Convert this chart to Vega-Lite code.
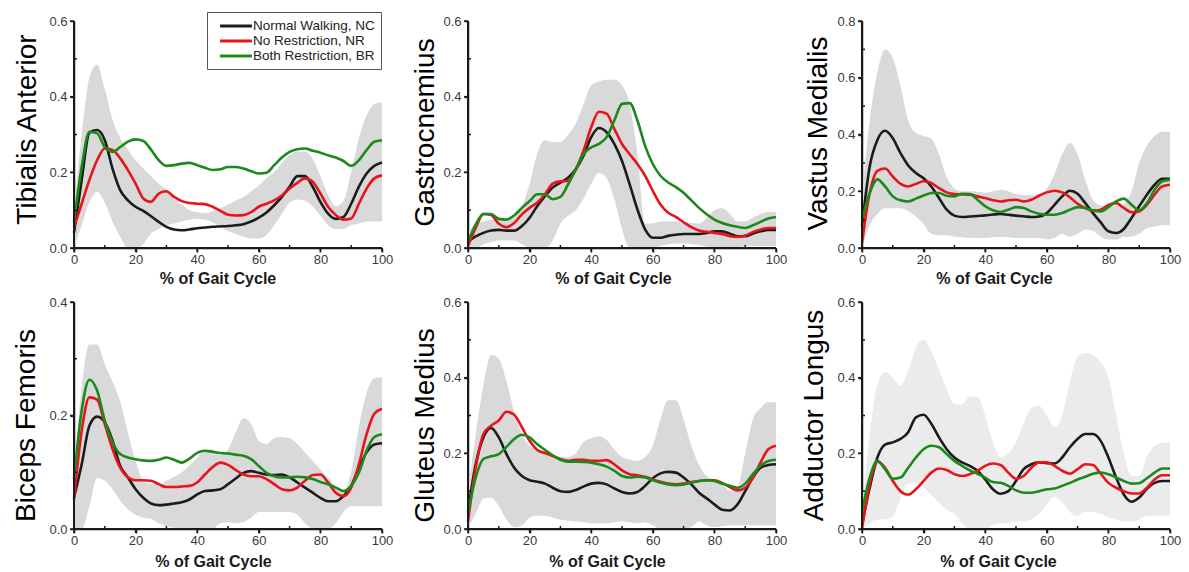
{
  "$schema": "https://vega.github.io/schema/vega-lite/v6.json",
  "autosize": {"type": "none"},
  "padding": {"left": 74, "top": 21, "right": 1115, "bottom": 551},
  "background": "white",
  "config": {
    "view": {"stroke": null},
    "font": "Liberation Sans",
    "axis": {
      "grid": false,
      "domain": true,
      "domainColor": "#1a1a1a",
      "domainWidth": 1.5,
      "ticks": true,
      "tickColor": "#1a1a1a",
      "tickWidth": 1.5,
      "tickSize": 4,
      "labelFlush": false,
      "labelFont": "Liberation Sans",
      "labelFontSize": 13,
      "labelColor": "#3a3a3a",
      "titleFont": "Liberation Sans"
    },
    "axisX": {"titleFontSize": 16, "titleFontWeight": "bold", "titleBaseline": "alphabetic", "titleColor": "#1a1a1a", "labelPadding": 1},
    "axisY": {"titleFontSize": 28, "titleFontWeight": "normal", "titleBaseline": "alphabetic", "titleAngle": -90, "titleAlign": "center", "titleColor": "#000000", "labelPadding": 3},
    "legend": {
      "labelFont": "Liberation Sans",
      "labelFontSize": 13.5,
      "labelColor": "#222222",
      "strokeColor": "#555555",
      "fillColor": "white",
      "padding": 6,
      "rowPadding": 0
    }
  },
  "datasets": {
    "frame": [
      {"m":"TA","o":0,"x":0,"y":0.6},{"m":"TA","o":1,"x":0,"y":0},{"m":"TA","o":2,"x":100,"y":0},
      {"m":"GA","o":0,"x":0,"y":0.6},{"m":"GA","o":1,"x":0,"y":0},{"m":"GA","o":2,"x":100,"y":0},
      {"m":"VM","o":0,"x":0,"y":0.8},{"m":"VM","o":1,"x":0,"y":0},{"m":"VM","o":2,"x":100,"y":0},
      {"m":"BF","o":0,"x":0,"y":0.4},{"m":"BF","o":1,"x":0,"y":0},{"m":"BF","o":2,"x":100,"y":0},
      {"m":"GM","o":0,"x":0,"y":0.6},{"m":"GM","o":1,"x":0,"y":0},{"m":"GM","o":2,"x":100,"y":0},
      {"m":"AL","o":0,"x":0,"y":0.6},{"m":"AL","o":1,"x":0,"y":0},{"m":"AL","o":2,"x":100,"y":0}
    ],
    "tk": [
      {"ax":"y","x":0,"y":0},{"ax":"y","x":0,"y":0.1},{"ax":"y","x":0,"y":0.2},{"ax":"y","x":0,"y":0.3},{"ax":"y","x":0,"y":0.4},
      {"ax":"y","x":0,"y":0.5},{"ax":"y","x":0,"y":0.6},{"ax":"y","x":0,"y":0.7},{"ax":"y","x":0,"y":0.8},
      {"ax":"x","x":0,"y":0},{"ax":"x","x":10,"y":0},{"ax":"x","x":20,"y":0},{"ax":"x","x":30,"y":0},{"ax":"x","x":40,"y":0},{"ax":"x","x":50,"y":0},
      {"ax":"x","x":60,"y":0},{"ax":"x","x":70,"y":0},{"ax":"x","x":80,"y":0},{"ax":"x","x":90,"y":0},{"ax":"x","x":100,"y":0}
    ],
    "emg": [
      {"m":"TA","x":0,"nc":0.04,"nr":0.055,"br":0.07,"lo":0,"hi":0.1},
      {"m":"TA","x":2.5,"nc":0.18,"nr":0.117,"br":0.215,"lo":0.06,"hi":0.3},
      {"m":"TA","x":5,"nc":0.305,"nr":0.18,"br":0.307,"lo":0.12,"hi":0.45},
      {"m":"TA","x":7.5,"nc":0.312,"nr":0.232,"br":0.303,"lo":0.148,"hi":0.485},
      {"m":"TA","x":10,"nc":0.285,"nr":0.263,"br":0.267,"lo":0.12,"hi":0.42},
      {"m":"TA","x":12.5,"nc":0.21,"nr":0.259,"br":0.254,"lo":0.07,"hi":0.34},
      {"m":"TA","x":15,"nc":0.153,"nr":0.237,"br":0.267,"lo":0.03,"hi":0.29},
      {"m":"TA","x":17.5,"nc":0.126,"nr":0.206,"br":0.281,"lo":0,"hi":0.26},
      {"m":"TA","x":20,"nc":0.109,"nr":0.17,"br":0.287,"lo":0,"hi":0.232},
      {"m":"TA","x":22.5,"nc":0.098,"nr":0.131,"br":0.283,"lo":0.01,"hi":0.21},
      {"m":"TA","x":25,"nc":0.084,"nr":0.122,"br":0.26,"lo":0.038,"hi":0.19},
      {"m":"TA","x":27.5,"nc":0.069,"nr":0.144,"br":0.232,"lo":0.05,"hi":0.17},
      {"m":"TA","x":30,"nc":0.056,"nr":0.15,"br":0.217,"lo":0.06,"hi":0.155},
      {"m":"TA","x":32.5,"nc":0.049,"nr":0.135,"br":0.219,"lo":0.065,"hi":0.13},
      {"m":"TA","x":35,"nc":0.047,"nr":0.124,"br":0.223,"lo":0.07,"hi":0.115},
      {"m":"TA","x":37.5,"nc":0.049,"nr":0.119,"br":0.225,"lo":0.075,"hi":0.1},
      {"m":"TA","x":40,"nc":0.052,"nr":0.117,"br":0.219,"lo":0.077,"hi":0.095},
      {"m":"TA","x":42.5,"nc":0.054,"nr":0.116,"br":0.212,"lo":0.075,"hi":0.092},
      {"m":"TA","x":45,"nc":0.056,"nr":0.109,"br":0.206,"lo":0.068,"hi":0.097},
      {"m":"TA","x":47.5,"nc":0.057,"nr":0.098,"br":0.208,"lo":0.055,"hi":0.105},
      {"m":"TA","x":50,"nc":0.058,"nr":0.088,"br":0.214,"lo":0.045,"hi":0.115},
      {"m":"TA","x":52.5,"nc":0.06,"nr":0.086,"br":0.214,"lo":0.037,"hi":0.125},
      {"m":"TA","x":55,"nc":0.063,"nr":0.087,"br":0.21,"lo":0.03,"hi":0.135},
      {"m":"TA","x":57.5,"nc":0.07,"nr":0.095,"br":0.203,"lo":0.025,"hi":0.15},
      {"m":"TA","x":60,"nc":0.08,"nr":0.109,"br":0.197,"lo":0.025,"hi":0.165},
      {"m":"TA","x":62.5,"nc":0.094,"nr":0.117,"br":0.199,"lo":0.035,"hi":0.185},
      {"m":"TA","x":65,"nc":0.113,"nr":0.126,"br":0.219,"lo":0.06,"hi":0.2},
      {"m":"TA","x":67.5,"nc":0.135,"nr":0.139,"br":0.239,"lo":0.09,"hi":0.225},
      {"m":"TA","x":70,"nc":0.162,"nr":0.157,"br":0.254,"lo":0.12,"hi":0.245},
      {"m":"TA","x":72.5,"nc":0.19,"nr":0.172,"br":0.261,"lo":0.128,"hi":0.255},
      {"m":"TA","x":75,"nc":0.19,"nr":0.184,"br":0.263,"lo":0.125,"hi":0.255},
      {"m":"TA","x":77.5,"nc":0.162,"nr":0.175,"br":0.257,"lo":0.11,"hi":0.235},
      {"m":"TA","x":80,"nc":0.122,"nr":0.144,"br":0.252,"lo":0.085,"hi":0.19},
      {"m":"TA","x":82.5,"nc":0.091,"nr":0.109,"br":0.245,"lo":0.06,"hi":0.14},
      {"m":"TA","x":85,"nc":0.077,"nr":0.087,"br":0.239,"lo":0.05,"hi":0.11},
      {"m":"TA","x":87.5,"nc":0.082,"nr":0.075,"br":0.23,"lo":0.05,"hi":0.125},
      {"m":"TA","x":90,"nc":0.117,"nr":0.078,"br":0.217,"lo":0.06,"hi":0.2},
      {"m":"TA","x":92.5,"nc":0.162,"nr":0.117,"br":0.232,"lo":0.065,"hi":0.29},
      {"m":"TA","x":95,"nc":0.197,"nr":0.157,"br":0.259,"lo":0.07,"hi":0.35},
      {"m":"TA","x":97.5,"nc":0.217,"nr":0.184,"br":0.281,"lo":0.07,"hi":0.38},
      {"m":"TA","x":100,"nc":0.226,"nr":0.192,"br":0.285,"lo":0.07,"hi":0.385},

      {"m":"GA","x":0,"nc":0.018,"nr":0.005,"br":0.018,"lo":0,"hi":0.04},
      {"m":"GA","x":2.5,"nc":0.031,"nr":0.053,"br":0.062,"lo":0,"hi":0.065},
      {"m":"GA","x":5,"nc":0.04,"nr":0.09,"br":0.09,"lo":0.01,"hi":0.07},
      {"m":"GA","x":7.5,"nc":0.046,"nr":0.087,"br":0.09,"lo":0.015,"hi":0.075},
      {"m":"GA","x":10,"nc":0.048,"nr":0.064,"br":0.077,"lo":0.02,"hi":0.075},
      {"m":"GA","x":12.5,"nc":0.046,"nr":0.055,"br":0.075,"lo":0.02,"hi":0.075},
      {"m":"GA","x":15,"nc":0.046,"nr":0.066,"br":0.086,"lo":0.02,"hi":0.08},
      {"m":"GA","x":17.5,"nc":0.058,"nr":0.089,"br":0.106,"lo":0.01,"hi":0.11},
      {"m":"GA","x":20,"nc":0.08,"nr":0.106,"br":0.124,"lo":0,"hi":0.17},
      {"m":"GA","x":22.5,"nc":0.111,"nr":0.12,"br":0.142,"lo":0,"hi":0.25},
      {"m":"GA","x":25,"nc":0.137,"nr":0.142,"br":0.142,"lo":0,"hi":0.285},
      {"m":"GA","x":27.5,"nc":0.16,"nr":0.17,"br":0.129,"lo":0.02,"hi":0.28},
      {"m":"GA","x":30,"nc":0.173,"nr":0.176,"br":0.135,"lo":0.065,"hi":0.28},
      {"m":"GA","x":32.5,"nc":0.186,"nr":0.177,"br":0.168,"lo":0.085,"hi":0.3},
      {"m":"GA","x":35,"nc":0.208,"nr":0.208,"br":0.208,"lo":0.1,"hi":0.33},
      {"m":"GA","x":37.5,"nc":0.244,"nr":0.257,"br":0.248,"lo":0.13,"hi":0.38},
      {"m":"GA","x":40,"nc":0.293,"nr":0.319,"br":0.266,"lo":0.17,"hi":0.43},
      {"m":"GA","x":42.5,"nc":0.317,"nr":0.36,"br":0.275,"lo":0.198,"hi":0.44},
      {"m":"GA","x":45,"nc":0.306,"nr":0.355,"br":0.293,"lo":0.185,"hi":0.445},
      {"m":"GA","x":47.5,"nc":0.275,"nr":0.315,"br":0.337,"lo":0.13,"hi":0.445},
      {"m":"GA","x":50,"nc":0.23,"nr":0.275,"br":0.381,"lo":0.05,"hi":0.43},
      {"m":"GA","x":52.5,"nc":0.168,"nr":0.248,"br":0.383,"lo":0,"hi":0.38},
      {"m":"GA","x":55,"nc":0.102,"nr":0.222,"br":0.337,"lo":0,"hi":0.25},
      {"m":"GA","x":57.5,"nc":0.049,"nr":0.191,"br":0.27,"lo":0,"hi":0.065},
      {"m":"GA","x":60,"nc":0.027,"nr":0.151,"br":0.222,"lo":0,"hi":0.065},
      {"m":"GA","x":62.5,"nc":0.027,"nr":0.115,"br":0.191,"lo":0.005,"hi":0.07},
      {"m":"GA","x":65,"nc":0.032,"nr":0.093,"br":0.173,"lo":0.01,"hi":0.07},
      {"m":"GA","x":67.5,"nc":0.035,"nr":0.082,"br":0.161,"lo":0.012,"hi":0.07},
      {"m":"GA","x":70,"nc":0.037,"nr":0.068,"br":0.146,"lo":0.012,"hi":0.068},
      {"m":"GA","x":72.5,"nc":0.037,"nr":0.055,"br":0.126,"lo":0.01,"hi":0.066},
      {"m":"GA","x":75,"nc":0.037,"nr":0.046,"br":0.106,"lo":0.008,"hi":0.065},
      {"m":"GA","x":77.5,"nc":0.04,"nr":0.043,"br":0.089,"lo":0.004,"hi":0.08},
      {"m":"GA","x":80,"nc":0.044,"nr":0.04,"br":0.075,"lo":0,"hi":0.1},
      {"m":"GA","x":82.5,"nc":0.044,"nr":0.037,"br":0.066,"lo":0,"hi":0.105},
      {"m":"GA","x":85,"nc":0.038,"nr":0.031,"br":0.06,"lo":0,"hi":0.09},
      {"m":"GA","x":87.5,"nc":0.031,"nr":0.029,"br":0.056,"lo":0,"hi":0.07},
      {"m":"GA","x":90,"nc":0.031,"nr":0.033,"br":0.053,"lo":0.005,"hi":0.07},
      {"m":"GA","x":92.5,"nc":0.038,"nr":0.042,"br":0.06,"lo":0.005,"hi":0.08},
      {"m":"GA","x":95,"nc":0.044,"nr":0.049,"br":0.069,"lo":0.005,"hi":0.09},
      {"m":"GA","x":97.5,"nc":0.048,"nr":0.053,"br":0.078,"lo":0.005,"hi":0.095},
      {"m":"GA","x":100,"nc":0.048,"nr":0.053,"br":0.082,"lo":0.005,"hi":0.095},

      {"m":"VM","x":0,"nc":0.076,"nr":0.018,"br":0.1,"lo":0,"hi":0.18},
      {"m":"VM","x":2.5,"nc":0.287,"nr":0.194,"br":0.194,"lo":0.08,"hi":0.45},
      {"m":"VM","x":5,"nc":0.381,"nr":0.272,"br":0.242,"lo":0.12,"hi":0.62},
      {"m":"VM","x":7.5,"nc":0.413,"nr":0.28,"br":0.217,"lo":0.14,"hi":0.7},
      {"m":"VM","x":10,"nc":0.387,"nr":0.252,"br":0.182,"lo":0.14,"hi":0.67},
      {"m":"VM","x":12.5,"nc":0.334,"nr":0.226,"br":0.168,"lo":0.14,"hi":0.57},
      {"m":"VM","x":15,"nc":0.291,"nr":0.217,"br":0.164,"lo":0.13,"hi":0.45},
      {"m":"VM","x":17.5,"nc":0.264,"nr":0.226,"br":0.174,"lo":0.11,"hi":0.405},
      {"m":"VM","x":20,"nc":0.246,"nr":0.235,"br":0.185,"lo":0.085,"hi":0.395},
      {"m":"VM","x":22.5,"nc":0.217,"nr":0.229,"br":0.194,"lo":0.05,"hi":0.385},
      {"m":"VM","x":25,"nc":0.176,"nr":0.211,"br":0.194,"lo":0.045,"hi":0.33},
      {"m":"VM","x":27.5,"nc":0.135,"nr":0.196,"br":0.184,"lo":0.045,"hi":0.25},
      {"m":"VM","x":30,"nc":0.114,"nr":0.19,"br":0.182,"lo":0.04,"hi":0.21},
      {"m":"VM","x":32.5,"nc":0.109,"nr":0.189,"br":0.191,"lo":0.038,"hi":0.2},
      {"m":"VM","x":35,"nc":0.111,"nr":0.188,"br":0.19,"lo":0.035,"hi":0.2},
      {"m":"VM","x":37.5,"nc":0.113,"nr":0.182,"br":0.17,"lo":0.035,"hi":0.198},
      {"m":"VM","x":40,"nc":0.115,"nr":0.176,"br":0.147,"lo":0.035,"hi":0.195},
      {"m":"VM","x":42.5,"nc":0.118,"nr":0.168,"br":0.133,"lo":0.038,"hi":0.2},
      {"m":"VM","x":45,"nc":0.12,"nr":0.164,"br":0.127,"lo":0.04,"hi":0.205},
      {"m":"VM","x":47.5,"nc":0.117,"nr":0.168,"br":0.135,"lo":0.038,"hi":0.2},
      {"m":"VM","x":50,"nc":0.114,"nr":0.17,"br":0.144,"lo":0.035,"hi":0.19},
      {"m":"VM","x":52.5,"nc":0.112,"nr":0.164,"br":0.141,"lo":0.035,"hi":0.187},
      {"m":"VM","x":55,"nc":0.109,"nr":0.17,"br":0.129,"lo":0.035,"hi":0.185},
      {"m":"VM","x":57.5,"nc":0.111,"nr":0.184,"br":0.121,"lo":0.035,"hi":0.19},
      {"m":"VM","x":60,"nc":0.123,"nr":0.196,"br":0.117,"lo":0.03,"hi":0.21},
      {"m":"VM","x":62.5,"nc":0.152,"nr":0.202,"br":0.117,"lo":0.035,"hi":0.26},
      {"m":"VM","x":65,"nc":0.182,"nr":0.196,"br":0.123,"lo":0.05,"hi":0.33},
      {"m":"VM","x":67.5,"nc":0.202,"nr":0.179,"br":0.135,"lo":0.04,"hi":0.37},
      {"m":"VM","x":70,"nc":0.191,"nr":0.156,"br":0.144,"lo":0.05,"hi":0.33},
      {"m":"VM","x":72.5,"nc":0.158,"nr":0.141,"br":0.141,"lo":0.065,"hi":0.24},
      {"m":"VM","x":75,"nc":0.123,"nr":0.131,"br":0.133,"lo":0.06,"hi":0.17},
      {"m":"VM","x":77.5,"nc":0.09,"nr":0.135,"br":0.129,"lo":0.04,"hi":0.15},
      {"m":"VM","x":80,"nc":0.059,"nr":0.152,"br":0.144,"lo":0.03,"hi":0.15},
      {"m":"VM","x":82.5,"nc":0.053,"nr":0.158,"br":0.164,"lo":0.03,"hi":0.15},
      {"m":"VM","x":85,"nc":0.067,"nr":0.141,"br":0.174,"lo":0.04,"hi":0.155},
      {"m":"VM","x":87.5,"nc":0.106,"nr":0.126,"br":0.152,"lo":0.04,"hi":0.2},
      {"m":"VM","x":90,"nc":0.147,"nr":0.129,"br":0.133,"lo":0.05,"hi":0.3},
      {"m":"VM","x":92.5,"nc":0.188,"nr":0.152,"br":0.158,"lo":0.07,"hi":0.36},
      {"m":"VM","x":95,"nc":0.223,"nr":0.188,"br":0.205,"lo":0.075,"hi":0.395},
      {"m":"VM","x":97.5,"nc":0.244,"nr":0.217,"br":0.235,"lo":0.08,"hi":0.41},
      {"m":"VM","x":100,"nc":0.244,"nr":0.223,"br":0.24,"lo":0.08,"hi":0.41},

      {"m":"BF","x":0,"nc":0.055,"nr":0.052,"br":0.088,"lo":0,"hi":0.1},
      {"m":"BF","x":2.5,"nc":0.114,"nr":0.173,"br":0.209,"lo":0,"hi":0.25},
      {"m":"BF","x":5,"nc":0.182,"nr":0.232,"br":0.263,"lo":0.04,"hi":0.325},
      {"m":"BF","x":7.5,"nc":0.198,"nr":0.228,"br":0.244,"lo":0.09,"hi":0.325},
      {"m":"BF","x":10,"nc":0.188,"nr":0.185,"br":0.191,"lo":0.085,"hi":0.29},
      {"m":"BF","x":12.5,"nc":0.156,"nr":0.141,"br":0.153,"lo":0.07,"hi":0.26},
      {"m":"BF","x":15,"nc":0.111,"nr":0.108,"br":0.132,"lo":0.05,"hi":0.225},
      {"m":"BF","x":17.5,"nc":0.091,"nr":0.091,"br":0.126,"lo":0.035,"hi":0.17},
      {"m":"BF","x":20,"nc":0.07,"nr":0.086,"br":0.123,"lo":0.025,"hi":0.12},
      {"m":"BF","x":22.5,"nc":0.055,"nr":0.086,"br":0.121,"lo":0.02,"hi":0.085},
      {"m":"BF","x":25,"nc":0.045,"nr":0.085,"br":0.12,"lo":0.018,"hi":0.08},
      {"m":"BF","x":27.5,"nc":0.042,"nr":0.079,"br":0.122,"lo":0.01,"hi":0.078},
      {"m":"BF","x":30,"nc":0.043,"nr":0.074,"br":0.126,"lo":0.005,"hi":0.085},
      {"m":"BF","x":32.5,"nc":0.045,"nr":0.074,"br":0.122,"lo":0.002,"hi":0.092},
      {"m":"BF","x":35,"nc":0.047,"nr":0.075,"br":0.117,"lo":0,"hi":0.1},
      {"m":"BF","x":37.5,"nc":0.052,"nr":0.076,"br":0.124,"lo":0,"hi":0.112},
      {"m":"BF","x":40,"nc":0.061,"nr":0.082,"br":0.134,"lo":0,"hi":0.125},
      {"m":"BF","x":42.5,"nc":0.067,"nr":0.096,"br":0.138,"lo":0,"hi":0.14},
      {"m":"BF","x":45,"nc":0.068,"nr":0.109,"br":0.136,"lo":0,"hi":0.14},
      {"m":"BF","x":47.5,"nc":0.07,"nr":0.117,"br":0.134,"lo":0.01,"hi":0.13},
      {"m":"BF","x":50,"nc":0.079,"nr":0.113,"br":0.133,"lo":0.012,"hi":0.14},
      {"m":"BF","x":52.5,"nc":0.089,"nr":0.104,"br":0.131,"lo":0.01,"hi":0.17},
      {"m":"BF","x":55,"nc":0.099,"nr":0.096,"br":0.129,"lo":0.012,"hi":0.195},
      {"m":"BF","x":57.5,"nc":0.102,"nr":0.093,"br":0.123,"lo":0.02,"hi":0.185},
      {"m":"BF","x":60,"nc":0.099,"nr":0.093,"br":0.111,"lo":0.03,"hi":0.155},
      {"m":"BF","x":62.5,"nc":0.096,"nr":0.088,"br":0.099,"lo":0.03,"hi":0.15},
      {"m":"BF","x":65,"nc":0.095,"nr":0.079,"br":0.093,"lo":0.03,"hi":0.16},
      {"m":"BF","x":67.5,"nc":0.096,"nr":0.07,"br":0.091,"lo":0.03,"hi":0.162},
      {"m":"BF","x":70,"nc":0.091,"nr":0.068,"br":0.091,"lo":0.03,"hi":0.16},
      {"m":"BF","x":72.5,"nc":0.082,"nr":0.073,"br":0.092,"lo":0.025,"hi":0.15},
      {"m":"BF","x":75,"nc":0.073,"nr":0.085,"br":0.091,"lo":0.01,"hi":0.135},
      {"m":"BF","x":77.5,"nc":0.064,"nr":0.095,"br":0.088,"lo":0,"hi":0.12},
      {"m":"BF","x":80,"nc":0.055,"nr":0.096,"br":0.083,"lo":0,"hi":0.105},
      {"m":"BF","x":82.5,"nc":0.049,"nr":0.082,"br":0.079,"lo":0,"hi":0.09},
      {"m":"BF","x":85,"nc":0.049,"nr":0.064,"br":0.073,"lo":0.01,"hi":0.075},
      {"m":"BF","x":87.5,"nc":0.058,"nr":0.058,"br":0.067,"lo":0.03,"hi":0.068},
      {"m":"BF","x":90,"nc":0.076,"nr":0.073,"br":0.076,"lo":0.04,"hi":0.1},
      {"m":"BF","x":92.5,"nc":0.108,"nr":0.114,"br":0.099,"lo":0.04,"hi":0.18},
      {"m":"BF","x":95,"nc":0.135,"nr":0.167,"br":0.138,"lo":0.04,"hi":0.24},
      {"m":"BF","x":97.5,"nc":0.149,"nr":0.203,"br":0.162,"lo":0.04,"hi":0.265},
      {"m":"BF","x":100,"nc":0.151,"nr":0.212,"br":0.167,"lo":0.04,"hi":0.268},

      {"m":"GM","x":0,"nc":0.047,"nr":0.02,"br":0.043,"lo":0,"hi":0.1},
      {"m":"GM","x":2.5,"nc":0.171,"nr":0.162,"br":0.136,"lo":0.04,"hi":0.25},
      {"m":"GM","x":5,"nc":0.242,"nr":0.251,"br":0.185,"lo":0.08,"hi":0.38},
      {"m":"GM","x":7.5,"nc":0.267,"nr":0.273,"br":0.192,"lo":0.083,"hi":0.46},
      {"m":"GM","x":10,"nc":0.242,"nr":0.287,"br":0.198,"lo":0.06,"hi":0.45},
      {"m":"GM","x":12.5,"nc":0.198,"nr":0.31,"br":0.217,"lo":0.025,"hi":0.39},
      {"m":"GM","x":15,"nc":0.162,"nr":0.302,"br":0.238,"lo":0.005,"hi":0.31},
      {"m":"GM","x":17.5,"nc":0.14,"nr":0.269,"br":0.249,"lo":0.01,"hi":0.25},
      {"m":"GM","x":20,"nc":0.129,"nr":0.233,"br":0.242,"lo":0.03,"hi":0.22},
      {"m":"GM","x":22.5,"nc":0.125,"nr":0.209,"br":0.224,"lo":0.035,"hi":0.21},
      {"m":"GM","x":25,"nc":0.12,"nr":0.201,"br":0.209,"lo":0.035,"hi":0.2},
      {"m":"GM","x":27.5,"nc":0.109,"nr":0.193,"br":0.195,"lo":0.03,"hi":0.195},
      {"m":"GM","x":30,"nc":0.1,"nr":0.185,"br":0.183,"lo":0.025,"hi":0.19},
      {"m":"GM","x":32.5,"nc":0.098,"nr":0.18,"br":0.178,"lo":0.022,"hi":0.19},
      {"m":"GM","x":35,"nc":0.103,"nr":0.183,"br":0.178,"lo":0.02,"hi":0.2},
      {"m":"GM","x":37.5,"nc":0.112,"nr":0.183,"br":0.177,"lo":0.018,"hi":0.23},
      {"m":"GM","x":40,"nc":0.12,"nr":0.18,"br":0.175,"lo":0.015,"hi":0.24},
      {"m":"GM","x":42.5,"nc":0.122,"nr":0.18,"br":0.171,"lo":0.015,"hi":0.245},
      {"m":"GM","x":45,"nc":0.118,"nr":0.182,"br":0.165,"lo":0.015,"hi":0.235},
      {"m":"GM","x":47.5,"nc":0.107,"nr":0.171,"br":0.154,"lo":0.018,"hi":0.21},
      {"m":"GM","x":50,"nc":0.098,"nr":0.155,"br":0.14,"lo":0.02,"hi":0.19},
      {"m":"GM","x":52.5,"nc":0.094,"nr":0.145,"br":0.136,"lo":0.018,"hi":0.183},
      {"m":"GM","x":55,"nc":0.098,"nr":0.142,"br":0.138,"lo":0.015,"hi":0.18},
      {"m":"GM","x":57.5,"nc":0.114,"nr":0.138,"br":0.136,"lo":0.018,"hi":0.19},
      {"m":"GM","x":60,"nc":0.134,"nr":0.131,"br":0.129,"lo":0.01,"hi":0.22},
      {"m":"GM","x":62.5,"nc":0.147,"nr":0.125,"br":0.122,"lo":0,"hi":0.29},
      {"m":"GM","x":65,"nc":0.151,"nr":0.12,"br":0.118,"lo":0,"hi":0.34},
      {"m":"GM","x":67.5,"nc":0.149,"nr":0.118,"br":0.116,"lo":0,"hi":0.34},
      {"m":"GM","x":70,"nc":0.136,"nr":0.12,"br":0.118,"lo":0,"hi":0.29},
      {"m":"GM","x":72.5,"nc":0.118,"nr":0.124,"br":0.122,"lo":0.005,"hi":0.22},
      {"m":"GM","x":75,"nc":0.096,"nr":0.127,"br":0.127,"lo":0.02,"hi":0.17},
      {"m":"GM","x":77.5,"nc":0.081,"nr":0.129,"br":0.129,"lo":0.01,"hi":0.14},
      {"m":"GM","x":80,"nc":0.065,"nr":0.129,"br":0.127,"lo":0.005,"hi":0.13},
      {"m":"GM","x":82.5,"nc":0.051,"nr":0.122,"br":0.12,"lo":0.007,"hi":0.12},
      {"m":"GM","x":85,"nc":0.049,"nr":0.111,"br":0.114,"lo":0.01,"hi":0.1},
      {"m":"GM","x":87.5,"nc":0.065,"nr":0.102,"br":0.109,"lo":0.01,"hi":0.11},
      {"m":"GM","x":90,"nc":0.1,"nr":0.109,"br":0.12,"lo":0.01,"hi":0.2},
      {"m":"GM","x":92.5,"nc":0.136,"nr":0.136,"br":0.145,"lo":0.01,"hi":0.29},
      {"m":"GM","x":95,"nc":0.162,"nr":0.176,"br":0.167,"lo":0.01,"hi":0.32},
      {"m":"GM","x":97.5,"nc":0.169,"nr":0.211,"br":0.18,"lo":0.01,"hi":0.335},
      {"m":"GM","x":100,"nc":0.171,"nr":0.22,"br":0.183,"lo":0.01,"hi":0.335},

      {"m":"AL","x":0,"nc":0.012,"nr":0.001,"br":0.047,"lo":0,"hi":0.05},
      {"m":"AL","x":2.5,"nc":0.109,"nr":0.118,"br":0.136,"lo":0.015,"hi":0.25},
      {"m":"AL","x":5,"nc":0.189,"nr":0.178,"br":0.18,"lo":0.025,"hi":0.38},
      {"m":"AL","x":7.5,"nc":0.223,"nr":0.162,"br":0.158,"lo":0.025,"hi":0.415},
      {"m":"AL","x":10,"nc":0.229,"nr":0.127,"br":0.133,"lo":0.035,"hi":0.4},
      {"m":"AL","x":12.5,"nc":0.238,"nr":0.1,"br":0.136,"lo":0.08,"hi":0.38},
      {"m":"AL","x":15,"nc":0.256,"nr":0.091,"br":0.162,"lo":0.12,"hi":0.42},
      {"m":"AL","x":17.5,"nc":0.295,"nr":0.105,"br":0.189,"lo":0.12,"hi":0.48},
      {"m":"AL","x":20,"nc":0.302,"nr":0.127,"br":0.211,"lo":0.11,"hi":0.5},
      {"m":"AL","x":22.5,"nc":0.278,"nr":0.149,"br":0.22,"lo":0.09,"hi":0.47},
      {"m":"AL","x":25,"nc":0.242,"nr":0.16,"br":0.216,"lo":0.07,"hi":0.42},
      {"m":"AL","x":27.5,"nc":0.211,"nr":0.156,"br":0.198,"lo":0.05,"hi":0.37},
      {"m":"AL","x":30,"nc":0.189,"nr":0.145,"br":0.18,"lo":0.04,"hi":0.33},
      {"m":"AL","x":32.5,"nc":0.176,"nr":0.14,"br":0.167,"lo":0.015,"hi":0.33},
      {"m":"AL","x":35,"nc":0.167,"nr":0.145,"br":0.155,"lo":0,"hi":0.35},
      {"m":"AL","x":37.5,"nc":0.154,"nr":0.154,"br":0.146,"lo":0,"hi":0.35},
      {"m":"AL","x":40,"nc":0.131,"nr":0.167,"br":0.136,"lo":0,"hi":0.3},
      {"m":"AL","x":42.5,"nc":0.105,"nr":0.173,"br":0.124,"lo":0.01,"hi":0.23},
      {"m":"AL","x":45,"nc":0.093,"nr":0.169,"br":0.122,"lo":0.015,"hi":0.19},
      {"m":"AL","x":47.5,"nc":0.1,"nr":0.149,"br":0.114,"lo":0.015,"hi":0.2},
      {"m":"AL","x":50,"nc":0.127,"nr":0.133,"br":0.102,"lo":0.02,"hi":0.23},
      {"m":"AL","x":52.5,"nc":0.158,"nr":0.14,"br":0.096,"lo":0.02,"hi":0.28},
      {"m":"AL","x":55,"nc":0.171,"nr":0.162,"br":0.096,"lo":0.025,"hi":0.32},
      {"m":"AL","x":57.5,"nc":0.176,"nr":0.176,"br":0.1,"lo":0.04,"hi":0.325},
      {"m":"AL","x":60,"nc":0.174,"nr":0.176,"br":0.105,"lo":0.065,"hi":0.3},
      {"m":"AL","x":62.5,"nc":0.173,"nr":0.167,"br":0.107,"lo":0.085,"hi":0.27},
      {"m":"AL","x":65,"nc":0.189,"nr":0.154,"br":0.114,"lo":0.07,"hi":0.3},
      {"m":"AL","x":67.5,"nc":0.216,"nr":0.146,"br":0.122,"lo":0.045,"hi":0.39},
      {"m":"AL","x":70,"nc":0.238,"nr":0.158,"br":0.131,"lo":0.035,"hi":0.455},
      {"m":"AL","x":72.5,"nc":0.251,"nr":0.171,"br":0.138,"lo":0.045,"hi":0.465},
      {"m":"AL","x":75,"nc":0.251,"nr":0.169,"br":0.146,"lo":0.045,"hi":0.46},
      {"m":"AL","x":77.5,"nc":0.233,"nr":0.146,"br":0.149,"lo":0.04,"hi":0.44},
      {"m":"AL","x":80,"nc":0.189,"nr":0.122,"br":0.145,"lo":0.03,"hi":0.4},
      {"m":"AL","x":82.5,"nc":0.136,"nr":0.109,"br":0.136,"lo":0.025,"hi":0.3},
      {"m":"AL","x":85,"nc":0.091,"nr":0.1,"br":0.127,"lo":0.02,"hi":0.2},
      {"m":"AL","x":87.5,"nc":0.072,"nr":0.094,"br":0.12,"lo":0.02,"hi":0.14},
      {"m":"AL","x":90,"nc":0.083,"nr":0.094,"br":0.121,"lo":0.025,"hi":0.14},
      {"m":"AL","x":92.5,"nc":0.106,"nr":0.109,"br":0.134,"lo":0.035,"hi":0.19},
      {"m":"AL","x":95,"nc":0.122,"nr":0.131,"br":0.149,"lo":0.035,"hi":0.22},
      {"m":"AL","x":97.5,"nc":0.127,"nr":0.142,"br":0.16,"lo":0.035,"hi":0.228},
      {"m":"AL","x":100,"nc":0.127,"nr":0.142,"br":0.16,"lo":0.035,"hi":0.228}
    ]
  },
  "columns": 3,
  "spacing": {"row": 54, "column": 86},
  "bounds": "flush",
  "concat": [
    {
      "width": 308, "height": 227,
      "layer": [
        {"data": {"name": "emg"}, "transform": [{"filter": "datum.m === 'TA'"}],
         "mark": {"type": "area", "interpolate": "monotone", "color": "#d9d9d9"},
         "encoding": {
           "x": {"field": "x", "type": "quantitative", "title": "% of Gait Cycle", "scale": {"domain": [0, 100], "nice": false},
                 "axis": {"values": [0, 20, 40, 60, 80, 100], "format": "d", "titleX": 143.5, "titleY": 35}},
           "y": {"field": "lo", "type": "quantitative", "title": "Tibialis Anterior", "scale": {"domain": [0, 0.6], "nice": false},
                 "axis": {"values": [0, 0.2, 0.4, 0.6], "format": ".1f", "titleX": -39, "titleY": 108}},
           "y2": {"field": "hi"}}},
        {"data": {"name": "emg"}, "transform": [{"filter": "datum.m === 'TA'"}, {"fold": ["nc", "nr", "br"], "as": ["s", "v"]}],
         "mark": {"type": "line", "interpolate": "monotone", "strokeWidth": 2.6},
         "encoding": {
           "x": {"field": "x", "type": "quantitative", "title": "% of Gait Cycle"},
           "y": {"field": "v", "type": "quantitative", "title": "Tibialis Anterior"},
           "color": {"field": "s", "type": "nominal",
                     "scale": {"domain": ["nc", "nr", "br"], "range": ["#1c1c1c", "#e8141c", "#1a8a1a"]},
                     "legend": {"title": null, "orient": "none", "legendX": 133, "legendY": -9,
                                "labelExpr": "datum.label === 'nc' ? 'Normal Walking, NC' : datum.label === 'nr' ? 'No Restriction, NR' : 'Both Restriction, BR'",
                                "symbolType": "M-2.45,0L2.45,0", "symbolSize": 169, "symbolStrokeWidth": 3, "symbolOffset": 15, "labelOffset": 9}}}},
        {"data": {"name": "frame"}, "transform": [{"filter": "datum.m === 'TA'"}],
         "mark": {"type": "line", "color": "#1a1a1a", "strokeWidth": 2},
         "encoding": {"x": {"field": "x", "type": "quantitative", "title": "% of Gait Cycle"}, "y": {"field": "y", "type": "quantitative", "title": "Tibialis Anterior"}, "order": {"field": "o", "type": "quantitative"}}},
        {"data": {"name": "tk"}, "transform": [{"filter": "datum.ax === 'y' && datum.y <= 0.6 && round(datum.y * 10) % 2 === 0"}],
         "mark": {"type": "point", "shape": "M-1,0L0,0", "size": 64, "filled": false, "strokeWidth": 1.5, "color": "#1a1a1a", "opacity": 1},
         "encoding": {"x": {"field": "x", "type": "quantitative", "title": "% of Gait Cycle"}, "y": {"field": "y", "type": "quantitative", "title": "Tibialis Anterior"}}},
        {"data": {"name": "tk"}, "transform": [{"filter": "datum.ax === 'y' && datum.y <= 0.6 && round(datum.y * 10) % 2 === 1"}],
         "mark": {"type": "point", "shape": "M0,0L1,0", "size": 36, "filled": false, "strokeWidth": 1.5, "color": "#1a1a1a", "opacity": 1},
         "encoding": {"x": {"field": "x", "type": "quantitative", "title": "% of Gait Cycle"}, "y": {"field": "y", "type": "quantitative", "title": "Tibialis Anterior"}}},
        {"data": {"name": "tk"}, "transform": [{"filter": "datum.ax === 'x' && datum.x % 20 === 0"}],
         "mark": {"type": "point", "shape": "M0,0L0,1", "size": 64, "filled": false, "strokeWidth": 1.5, "color": "#1a1a1a", "opacity": 1},
         "encoding": {"x": {"field": "x", "type": "quantitative", "title": "% of Gait Cycle"}, "y": {"field": "y", "type": "quantitative", "title": "Tibialis Anterior"}}},
        {"data": {"name": "tk"}, "transform": [{"filter": "datum.ax === 'x' && datum.x % 20 === 10"}],
         "mark": {"type": "point", "shape": "M0,-1L0,0", "size": 36, "filled": false, "strokeWidth": 1.5, "color": "#1a1a1a", "opacity": 1},
         "encoding": {"x": {"field": "x", "type": "quantitative", "title": "% of Gait Cycle"}, "y": {"field": "y", "type": "quantitative", "title": "Tibialis Anterior"}}}
      ]
    },
    {
      "width": 308, "height": 227,
      "layer": [
        {"data": {"name": "emg"}, "transform": [{"filter": "datum.m === 'GA'"}],
         "mark": {"type": "area", "interpolate": "monotone", "color": "#d9d9d9"},
         "encoding": {
           "x": {"field": "x", "type": "quantitative", "title": "% of Gait Cycle", "scale": {"domain": [0, 100], "nice": false},
                 "axis": {"values": [0, 20, 40, 60, 80, 100], "format": "d", "titleX": 145, "titleY": 35}},
           "y": {"field": "lo", "type": "quantitative", "title": "Gastrocnemius", "scale": {"domain": [0, 0.6], "nice": false},
                 "axis": {"values": [0, 0.2, 0.4, 0.6], "format": ".1f", "titleX": -35, "titleY": 111}},
           "y2": {"field": "hi"}}},
        {"data": {"name": "emg"}, "transform": [{"filter": "datum.m === 'GA'"}, {"fold": ["nc", "nr", "br"], "as": ["s", "v"]}],
         "mark": {"type": "line", "interpolate": "monotone", "strokeWidth": 2.6},
         "encoding": {
           "x": {"field": "x", "type": "quantitative", "title": "% of Gait Cycle"},
           "y": {"field": "v", "type": "quantitative", "title": "Gastrocnemius"},
           "color": {"field": "s", "type": "nominal",
                     "scale": {"domain": ["nc", "nr", "br"], "range": ["#1c1c1c", "#e8141c", "#1a8a1a"]}}}},
        {"data": {"name": "frame"}, "transform": [{"filter": "datum.m === 'GA'"}],
         "mark": {"type": "line", "color": "#1a1a1a", "strokeWidth": 2},
         "encoding": {"x": {"field": "x", "type": "quantitative", "title": "% of Gait Cycle"}, "y": {"field": "y", "type": "quantitative", "title": "Gastrocnemius"}, "order": {"field": "o", "type": "quantitative"}}},
        {"data": {"name": "tk"}, "transform": [{"filter": "datum.ax === 'y' && datum.y <= 0.6 && round(datum.y * 10) % 2 === 0"}],
         "mark": {"type": "point", "shape": "M-1,0L0,0", "size": 64, "filled": false, "strokeWidth": 1.5, "color": "#1a1a1a", "opacity": 1},
         "encoding": {"x": {"field": "x", "type": "quantitative", "title": "% of Gait Cycle"}, "y": {"field": "y", "type": "quantitative", "title": "Gastrocnemius"}}},
        {"data": {"name": "tk"}, "transform": [{"filter": "datum.ax === 'y' && datum.y <= 0.6 && round(datum.y * 10) % 2 === 1"}],
         "mark": {"type": "point", "shape": "M0,0L1,0", "size": 36, "filled": false, "strokeWidth": 1.5, "color": "#1a1a1a", "opacity": 1},
         "encoding": {"x": {"field": "x", "type": "quantitative", "title": "% of Gait Cycle"}, "y": {"field": "y", "type": "quantitative", "title": "Gastrocnemius"}}},
        {"data": {"name": "tk"}, "transform": [{"filter": "datum.ax === 'x' && datum.x % 20 === 0"}],
         "mark": {"type": "point", "shape": "M0,0L0,1", "size": 64, "filled": false, "strokeWidth": 1.5, "color": "#1a1a1a", "opacity": 1},
         "encoding": {"x": {"field": "x", "type": "quantitative", "title": "% of Gait Cycle"}, "y": {"field": "y", "type": "quantitative", "title": "Gastrocnemius"}}},
        {"data": {"name": "tk"}, "transform": [{"filter": "datum.ax === 'x' && datum.x % 20 === 10"}],
         "mark": {"type": "point", "shape": "M0,-1L0,0", "size": 36, "filled": false, "strokeWidth": 1.5, "color": "#1a1a1a", "opacity": 1},
         "encoding": {"x": {"field": "x", "type": "quantitative", "title": "% of Gait Cycle"}, "y": {"field": "y", "type": "quantitative", "title": "Gastrocnemius"}}}
      ]
    },
    {
      "width": 308, "height": 227,
      "layer": [
        {"data": {"name": "emg"}, "transform": [{"filter": "datum.m === 'VM'"}],
         "mark": {"type": "area", "interpolate": "monotone", "color": "#d9d9d9"},
         "encoding": {
           "x": {"field": "x", "type": "quantitative", "title": "% of Gait Cycle", "scale": {"domain": [0, 100], "nice": false},
                 "axis": {"values": [0, 20, 40, 60, 80, 100], "format": "d", "titleX": 132, "titleY": 35}},
           "y": {"field": "lo", "type": "quantitative", "title": "Vastus Medialis", "scale": {"domain": [0, 0.8], "nice": false},
                 "axis": {"values": [0, 0.2, 0.4, 0.6, 0.8], "format": ".1f", "titleX": -36, "titleY": 112}},
           "y2": {"field": "hi"}}},
        {"data": {"name": "emg"}, "transform": [{"filter": "datum.m === 'VM'"}, {"fold": ["nc", "nr", "br"], "as": ["s", "v"]}],
         "mark": {"type": "line", "interpolate": "monotone", "strokeWidth": 2.6},
         "encoding": {
           "x": {"field": "x", "type": "quantitative", "title": "% of Gait Cycle"},
           "y": {"field": "v", "type": "quantitative", "title": "Vastus Medialis"},
           "color": {"field": "s", "type": "nominal",
                     "scale": {"domain": ["nc", "nr", "br"], "range": ["#1c1c1c", "#e8141c", "#1a8a1a"]}}}},
        {"data": {"name": "frame"}, "transform": [{"filter": "datum.m === 'VM'"}],
         "mark": {"type": "line", "color": "#1a1a1a", "strokeWidth": 2},
         "encoding": {"x": {"field": "x", "type": "quantitative", "title": "% of Gait Cycle"}, "y": {"field": "y", "type": "quantitative", "title": "Vastus Medialis"}, "order": {"field": "o", "type": "quantitative"}}},
        {"data": {"name": "tk"}, "transform": [{"filter": "datum.ax === 'y' && datum.y <= 0.8 && round(datum.y * 10) % 2 === 0"}],
         "mark": {"type": "point", "shape": "M-1,0L0,0", "size": 64, "filled": false, "strokeWidth": 1.5, "color": "#1a1a1a", "opacity": 1},
         "encoding": {"x": {"field": "x", "type": "quantitative", "title": "% of Gait Cycle"}, "y": {"field": "y", "type": "quantitative", "title": "Vastus Medialis"}}},
        {"data": {"name": "tk"}, "transform": [{"filter": "datum.ax === 'y' && datum.y <= 0.8 && round(datum.y * 10) % 2 === 1"}],
         "mark": {"type": "point", "shape": "M0,0L1,0", "size": 36, "filled": false, "strokeWidth": 1.5, "color": "#1a1a1a", "opacity": 1},
         "encoding": {"x": {"field": "x", "type": "quantitative", "title": "% of Gait Cycle"}, "y": {"field": "y", "type": "quantitative", "title": "Vastus Medialis"}}},
        {"data": {"name": "tk"}, "transform": [{"filter": "datum.ax === 'x' && datum.x % 20 === 0"}],
         "mark": {"type": "point", "shape": "M0,0L0,1", "size": 64, "filled": false, "strokeWidth": 1.5, "color": "#1a1a1a", "opacity": 1},
         "encoding": {"x": {"field": "x", "type": "quantitative", "title": "% of Gait Cycle"}, "y": {"field": "y", "type": "quantitative", "title": "Vastus Medialis"}}},
        {"data": {"name": "tk"}, "transform": [{"filter": "datum.ax === 'x' && datum.x % 20 === 10"}],
         "mark": {"type": "point", "shape": "M0,-1L0,0", "size": 36, "filled": false, "strokeWidth": 1.5, "color": "#1a1a1a", "opacity": 1},
         "encoding": {"x": {"field": "x", "type": "quantitative", "title": "% of Gait Cycle"}, "y": {"field": "y", "type": "quantitative", "title": "Vastus Medialis"}}}
      ]
    },
    {
      "width": 308, "height": 227,
      "layer": [
        {"data": {"name": "emg"}, "transform": [{"filter": "datum.m === 'BF'"}],
         "mark": {"type": "area", "interpolate": "monotone", "color": "#d9d9d9"},
         "encoding": {
           "x": {"field": "x", "type": "quantitative", "title": "% of Gait Cycle", "scale": {"domain": [0, 100], "nice": false},
                 "axis": {"values": [0, 20, 40, 60, 80, 100], "format": "d", "titleX": 139, "titleY": 37}},
           "y": {"field": "lo", "type": "quantitative", "title": "Biceps Femoris", "scale": {"domain": [0, 0.4], "nice": false},
                 "axis": {"values": [0, 0.2, 0.4], "format": ".1f", "titleX": -40, "titleY": 123}},
           "y2": {"field": "hi"}}},
        {"data": {"name": "emg"}, "transform": [{"filter": "datum.m === 'BF'"}, {"fold": ["nc", "nr", "br"], "as": ["s", "v"]}],
         "mark": {"type": "line", "interpolate": "monotone", "strokeWidth": 2.6},
         "encoding": {
           "x": {"field": "x", "type": "quantitative", "title": "% of Gait Cycle"},
           "y": {"field": "v", "type": "quantitative", "title": "Biceps Femoris"},
           "color": {"field": "s", "type": "nominal",
                     "scale": {"domain": ["nc", "nr", "br"], "range": ["#1c1c1c", "#e8141c", "#1a8a1a"]}}}},
        {"data": {"name": "frame"}, "transform": [{"filter": "datum.m === 'BF'"}],
         "mark": {"type": "line", "color": "#1a1a1a", "strokeWidth": 2},
         "encoding": {"x": {"field": "x", "type": "quantitative", "title": "% of Gait Cycle"}, "y": {"field": "y", "type": "quantitative", "title": "Biceps Femoris"}, "order": {"field": "o", "type": "quantitative"}}},
        {"data": {"name": "tk"}, "transform": [{"filter": "datum.ax === 'y' && datum.y <= 0.4 && round(datum.y * 10) % 2 === 0"}],
         "mark": {"type": "point", "shape": "M-1,0L0,0", "size": 64, "filled": false, "strokeWidth": 1.5, "color": "#1a1a1a", "opacity": 1},
         "encoding": {"x": {"field": "x", "type": "quantitative", "title": "% of Gait Cycle"}, "y": {"field": "y", "type": "quantitative", "title": "Biceps Femoris"}}},
        {"data": {"name": "tk"}, "transform": [{"filter": "datum.ax === 'y' && datum.y <= 0.4 && round(datum.y * 10) % 2 === 1"}],
         "mark": {"type": "point", "shape": "M0,0L1,0", "size": 36, "filled": false, "strokeWidth": 1.5, "color": "#1a1a1a", "opacity": 1},
         "encoding": {"x": {"field": "x", "type": "quantitative", "title": "% of Gait Cycle"}, "y": {"field": "y", "type": "quantitative", "title": "Biceps Femoris"}}},
        {"data": {"name": "tk"}, "transform": [{"filter": "datum.ax === 'x' && datum.x % 20 === 0"}],
         "mark": {"type": "point", "shape": "M0,0L0,1", "size": 64, "filled": false, "strokeWidth": 1.5, "color": "#1a1a1a", "opacity": 1},
         "encoding": {"x": {"field": "x", "type": "quantitative", "title": "% of Gait Cycle"}, "y": {"field": "y", "type": "quantitative", "title": "Biceps Femoris"}}},
        {"data": {"name": "tk"}, "transform": [{"filter": "datum.ax === 'x' && datum.x % 20 === 10"}],
         "mark": {"type": "point", "shape": "M0,-1L0,0", "size": 36, "filled": false, "strokeWidth": 1.5, "color": "#1a1a1a", "opacity": 1},
         "encoding": {"x": {"field": "x", "type": "quantitative", "title": "% of Gait Cycle"}, "y": {"field": "y", "type": "quantitative", "title": "Biceps Femoris"}}}
      ]
    },
    {
      "width": 308, "height": 227,
      "layer": [
        {"data": {"name": "emg"}, "transform": [{"filter": "datum.m === 'GM'"}],
         "mark": {"type": "area", "interpolate": "monotone", "color": "#d9d9d9"},
         "encoding": {
           "x": {"field": "x", "type": "quantitative", "title": "% of Gait Cycle", "scale": {"domain": [0, 100], "nice": false},
                 "axis": {"values": [0, 20, 40, 60, 80, 100], "format": "d", "titleX": 139, "titleY": 37}},
           "y": {"field": "lo", "type": "quantitative", "title": "Gluteus Medius", "scale": {"domain": [0, 0.6], "nice": false},
                 "axis": {"values": [0, 0.2, 0.4, 0.6], "format": ".1f", "titleX": -35, "titleY": 123}},
           "y2": {"field": "hi"}}},
        {"data": {"name": "emg"}, "transform": [{"filter": "datum.m === 'GM'"}, {"fold": ["nc", "nr", "br"], "as": ["s", "v"]}],
         "mark": {"type": "line", "interpolate": "monotone", "strokeWidth": 2.6},
         "encoding": {
           "x": {"field": "x", "type": "quantitative", "title": "% of Gait Cycle"},
           "y": {"field": "v", "type": "quantitative", "title": "Gluteus Medius"},
           "color": {"field": "s", "type": "nominal",
                     "scale": {"domain": ["nc", "nr", "br"], "range": ["#1c1c1c", "#e8141c", "#1a8a1a"]}}}},
        {"data": {"name": "frame"}, "transform": [{"filter": "datum.m === 'GM'"}],
         "mark": {"type": "line", "color": "#1a1a1a", "strokeWidth": 2},
         "encoding": {"x": {"field": "x", "type": "quantitative", "title": "% of Gait Cycle"}, "y": {"field": "y", "type": "quantitative", "title": "Gluteus Medius"}, "order": {"field": "o", "type": "quantitative"}}},
        {"data": {"name": "tk"}, "transform": [{"filter": "datum.ax === 'y' && datum.y <= 0.6 && round(datum.y * 10) % 2 === 0"}],
         "mark": {"type": "point", "shape": "M-1,0L0,0", "size": 64, "filled": false, "strokeWidth": 1.5, "color": "#1a1a1a", "opacity": 1},
         "encoding": {"x": {"field": "x", "type": "quantitative", "title": "% of Gait Cycle"}, "y": {"field": "y", "type": "quantitative", "title": "Gluteus Medius"}}},
        {"data": {"name": "tk"}, "transform": [{"filter": "datum.ax === 'y' && datum.y <= 0.6 && round(datum.y * 10) % 2 === 1"}],
         "mark": {"type": "point", "shape": "M0,0L1,0", "size": 36, "filled": false, "strokeWidth": 1.5, "color": "#1a1a1a", "opacity": 1},
         "encoding": {"x": {"field": "x", "type": "quantitative", "title": "% of Gait Cycle"}, "y": {"field": "y", "type": "quantitative", "title": "Gluteus Medius"}}},
        {"data": {"name": "tk"}, "transform": [{"filter": "datum.ax === 'x' && datum.x % 20 === 0"}],
         "mark": {"type": "point", "shape": "M0,0L0,1", "size": 64, "filled": false, "strokeWidth": 1.5, "color": "#1a1a1a", "opacity": 1},
         "encoding": {"x": {"field": "x", "type": "quantitative", "title": "% of Gait Cycle"}, "y": {"field": "y", "type": "quantitative", "title": "Gluteus Medius"}}},
        {"data": {"name": "tk"}, "transform": [{"filter": "datum.ax === 'x' && datum.x % 20 === 10"}],
         "mark": {"type": "point", "shape": "M0,-1L0,0", "size": 36, "filled": false, "strokeWidth": 1.5, "color": "#1a1a1a", "opacity": 1},
         "encoding": {"x": {"field": "x", "type": "quantitative", "title": "% of Gait Cycle"}, "y": {"field": "y", "type": "quantitative", "title": "Gluteus Medius"}}}
      ]
    },
    {
      "width": 308, "height": 227,
      "layer": [
        {"data": {"name": "emg"}, "transform": [{"filter": "datum.m === 'AL'"}],
         "mark": {"type": "area", "interpolate": "monotone", "color": "#ebebeb"},
         "encoding": {
           "x": {"field": "x", "type": "quantitative", "title": "% of Gait Cycle", "scale": {"domain": [0, 100], "nice": false},
                 "axis": {"values": [0, 20, 40, 60, 80, 100], "format": "d", "titleX": 136, "titleY": 37}},
           "y": {"field": "lo", "type": "quantitative", "title": "Adductor Longus", "scale": {"domain": [0, 0.6], "nice": false},
                 "axis": {"values": [0, 0.2, 0.4, 0.6], "format": ".1f", "titleX": -40, "titleY": 113}},
           "y2": {"field": "hi"}}},
        {"data": {"name": "emg"}, "transform": [{"filter": "datum.m === 'AL'"}, {"fold": ["nc", "nr", "br"], "as": ["s", "v"]}],
         "mark": {"type": "line", "interpolate": "monotone", "strokeWidth": 2.6},
         "encoding": {
           "x": {"field": "x", "type": "quantitative", "title": "% of Gait Cycle"},
           "y": {"field": "v", "type": "quantitative", "title": "Adductor Longus"},
           "color": {"field": "s", "type": "nominal",
                     "scale": {"domain": ["nc", "nr", "br"], "range": ["#1c1c1c", "#e8141c", "#1a8a1a"]}}}},
        {"data": {"name": "frame"}, "transform": [{"filter": "datum.m === 'AL'"}],
         "mark": {"type": "line", "color": "#1a1a1a", "strokeWidth": 2},
         "encoding": {"x": {"field": "x", "type": "quantitative", "title": "% of Gait Cycle"}, "y": {"field": "y", "type": "quantitative", "title": "Adductor Longus"}, "order": {"field": "o", "type": "quantitative"}}},
        {"data": {"name": "tk"}, "transform": [{"filter": "datum.ax === 'y' && datum.y <= 0.6 && round(datum.y * 10) % 2 === 0"}],
         "mark": {"type": "point", "shape": "M-1,0L0,0", "size": 64, "filled": false, "strokeWidth": 1.5, "color": "#1a1a1a", "opacity": 1},
         "encoding": {"x": {"field": "x", "type": "quantitative", "title": "% of Gait Cycle"}, "y": {"field": "y", "type": "quantitative", "title": "Adductor Longus"}}},
        {"data": {"name": "tk"}, "transform": [{"filter": "datum.ax === 'y' && datum.y <= 0.6 && round(datum.y * 10) % 2 === 1"}],
         "mark": {"type": "point", "shape": "M0,0L1,0", "size": 36, "filled": false, "strokeWidth": 1.5, "color": "#1a1a1a", "opacity": 1},
         "encoding": {"x": {"field": "x", "type": "quantitative", "title": "% of Gait Cycle"}, "y": {"field": "y", "type": "quantitative", "title": "Adductor Longus"}}},
        {"data": {"name": "tk"}, "transform": [{"filter": "datum.ax === 'x' && datum.x % 20 === 0"}],
         "mark": {"type": "point", "shape": "M0,0L0,1", "size": 64, "filled": false, "strokeWidth": 1.5, "color": "#1a1a1a", "opacity": 1},
         "encoding": {"x": {"field": "x", "type": "quantitative", "title": "% of Gait Cycle"}, "y": {"field": "y", "type": "quantitative", "title": "Adductor Longus"}}},
        {"data": {"name": "tk"}, "transform": [{"filter": "datum.ax === 'x' && datum.x % 20 === 10"}],
         "mark": {"type": "point", "shape": "M0,-1L0,0", "size": 36, "filled": false, "strokeWidth": 1.5, "color": "#1a1a1a", "opacity": 1},
         "encoding": {"x": {"field": "x", "type": "quantitative", "title": "% of Gait Cycle"}, "y": {"field": "y", "type": "quantitative", "title": "Adductor Longus"}}}
      ]
    }
  ]
}
